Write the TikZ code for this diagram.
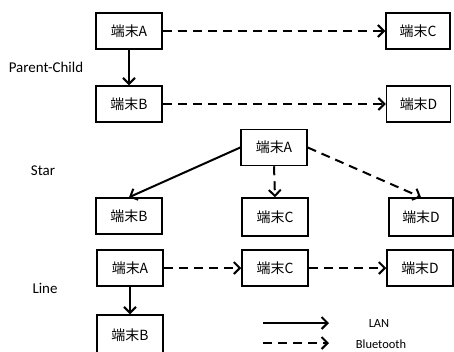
\documentclass[tikz,border=0pt]{standalone}
\usepackage{fontspec}
\setmainfont{Carlito}
\newfontfamily\cjk{Noto Sans CJK JP}
\usetikzlibrary{arrows.meta}
\begin{document}
\begin{tikzpicture}[x=1bp,y=-1bp,
  box/.style={draw,line width=1.5bp,minimum width=66bp,minimum height=36bp,inner sep=0pt,font=\cjk\fontsize{14}{16}\selectfont},
  lan/.style={line width=2bp,-{Straight Barb[length=6bp,width=12bp]}},
  bt/.style={lan,dash pattern=on 9bp off 6bp},
  lbl/.style={font=\fontsize{15}{17}\selectfont},
  leg/.style={font=\fontsize{12.5}{14}\selectfont}]
\useasboundingbox (0,0) rectangle (454,351);
\clip (0,0) rectangle (454,351);
% Parent-Child
\node[box] (pa) at (129,31) {端末A};
\node[box] (pb) at (129,104) {端末B};
\node[box,minimum width=64bp] (pc) at (418,31) {端末C};
\node[box,minimum width=64bp] (pd) at (418.5,104) {端末D};
\node[lbl] (lpc) at (46,67) {Parent-Child};
\draw[lan] (pa) -- (pb);
\draw[bt] (pa) -- (pc);
\draw[bt] (pb) -- (pd);
% Star
\node[box] (sa) at (274,147.5) {端末A};
\node[box] (sb) at (129,216) {端末B};
\node[box,minimum height=38bp] (sc) at (275,217) {端末C};
\node[box,minimum width=64bp,minimum height=38bp] (sd) at (421,217) {端末D};
\node[lbl] (ls) at (43,171) {Star};
\draw[lan] (sa.west) -- (sb.north);
\draw[bt] (sa.south) -- (sc.north);
\draw[bt] (sa.east) -- (sd.north);
% Line
\node[box] (la) at (130,268) {端末A};
\node[box,minimum height=40bp] (lb) at (130,335) {};
\node[font=\cjk\fontsize{14}{16}\selectfont] (lbt) at (130,335) {端末B};
\node[box] (lc) at (275,268) {端末C};
\node[box] (ld) at (420,268) {端末D};
\node[lbl] (ll) at (45,288) {Line};
\draw[lan] (la) -- (lb);
\draw[bt] (la) -- (lc);
\draw[bt] (lc) -- (ld);
% Legend
\coordinate (l1s) at (263,323);
\coordinate (l1e) at (329,323);
\coordinate (l2s) at (263,343);
\coordinate (l2e) at (329,343);
\draw[lan] (l1s) -- (l1e);
\draw[bt] (l2s) -- (l2e);
\node[leg] (lan) at (379,323) {LAN};
\node[leg] (blu) at (381,344) {Bluetooth};
\end{tikzpicture}
\end{document}
